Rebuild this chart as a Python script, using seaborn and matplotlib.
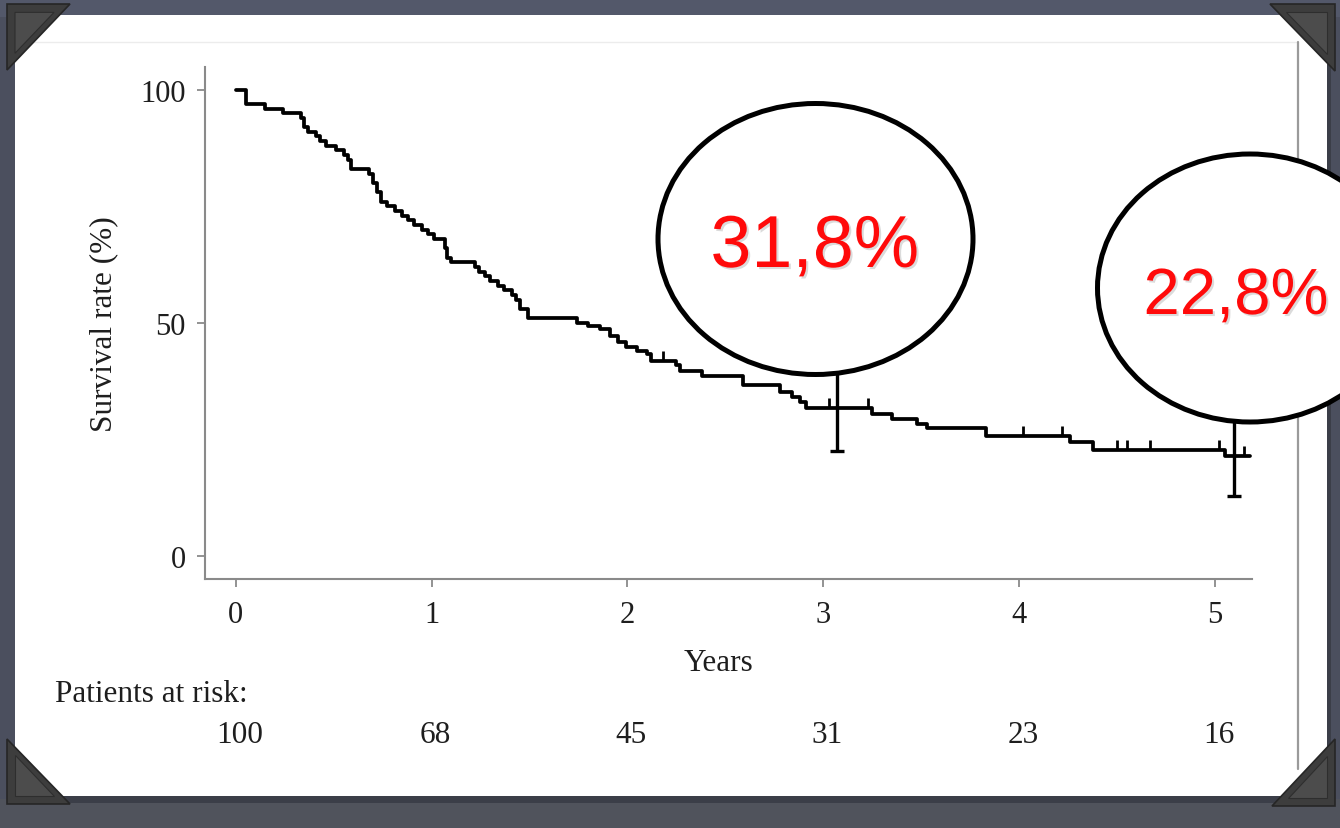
import numpy as np
import pandas as pd
import matplotlib
matplotlib.use("Agg")
import matplotlib.pyplot as plt
import matplotlib.patches as mpatches
import matplotlib.transforms as mtransforms
import matplotlib.patheffects as pe
from matplotlib.lines import Line2D
import seaborn as sns

# Kaplan-Meier estimate: times (years) at which the curve steps, and the level after each step (%)
step_years = [0.00, 0.05, 0.15, 0.24, 0.33, 0.35, 0.37, 0.41, 0.43, 0.46, 0.51, 0.55, 0.57, 0.59,
              0.68, 0.70, 0.72, 0.74, 0.77, 0.81, 0.85, 0.88, 0.91, 0.95, 0.98, 1.01, 1.07, 1.08,
              1.10, 1.22, 1.24, 1.27, 1.30, 1.34, 1.37, 1.41, 1.43, 1.45, 1.49, 1.74, 1.80, 1.86,
              1.91, 1.95, 1.99, 2.05, 2.10, 2.12, 2.25, 2.27, 2.38, 2.59, 2.78, 2.84, 2.88, 2.91,
              3.25, 3.35, 3.48, 3.53, 3.83, 4.26, 4.38, 5.05]
step_survival = [100, 97, 96, 95, 94, 92, 91, 90, 89, 88, 87, 86, 85, 83,
                 82, 80, 78, 76, 75, 74, 73, 72, 71, 70, 69, 68, 66, 64,
                 63, 62, 61, 60, 59, 58, 57, 56, 55, 53, 51, 50, 49.4, 48.7,
                 47.2, 46, 44.8, 44, 43.3, 41.8, 41, 39.7, 38.6, 36.7, 35.2, 34.1, 33, 31.8,
                 30.5, 29.4, 28.4, 27.5, 25.7, 24.5, 22.8, 21.5]
follow_up_end = 5.18

# censored observations
censor_years = [2.18, 3.03, 3.23, 4.02, 4.22, 4.50, 4.55, 4.67, 5.02, 5.15]

# 3- and 5-year estimates with confidence intervals
ci_years = [3.07, 5.10]
ci_survival = [31.8, 22.8]
ci_lower = [22.5, 12.9]
ci_upper = [41.1, 32.7]

x_ticks = [0, 1, 2, 3, 4, 5]
y_ticks = [0, 50, 100]
at_risk = [100, 68, 45, 31, 23, 16]

W, H = 1340, 829
sns.set_theme(style="ticks")
plt.rcParams['font.family'] = ['Liberation Serif', 'DejaVu Serif']

fig = plt.figure(figsize=(W / 100, H / 100), dpi=100)
fig.patch.set_facecolor('#4b4f5e')


def fx(px):
    return px / W


def fy(py):
    return 1 - py / H


def rect(x0, y0, x1, y1, **kw):
    p = mpatches.Rectangle((fx(x0), fy(y1)), fx(x1) - fx(x0), fy(y0) - fy(y1),
                           transform=fig.transFigure, **kw)
    fig.add_artist(p)
    return p


def poly(points, **kw):
    p = mpatches.Polygon([(fx(x), fy(y)) for x, y in points], closed=True,
                         transform=fig.transFigure, **kw)
    fig.add_artist(p)
    return p


# slate backdrop bands and the white card
rect(0, 0, W, 18, facecolor='#53586a', edgecolor='none', zorder=-5)
rect(0, 800, W, H, facecolor='#50535c', edgecolor='none', zorder=-5)
rect(19, 20, 1331, 804, facecolor='#3b3e48', edgecolor='none', zorder=-4)
rect(15, 16, 1327, 797, facecolor='white', edgecolor='none', zorder=-3)

# frame of the pasted figure
fig.add_artist(Line2D([fx(15), fx(1298)], [fy(43), fy(43)], transform=fig.transFigure,
                      color='#ececec', lw=1.0, zorder=-2))
fig.add_artist(Line2D([fx(1298), fx(1298)], [fy(43), fy(770)], transform=fig.transFigure,
                      color='#9a9a9a', lw=1.6, zorder=-2))

# photo corners
corner_sets = [
    [(7, 5), (70, 5), (7, 71)],
    [(1270, 5), (1335, 5), (1335, 72)],
    [(7, 740), (7, 805), (70, 805)],
    [(1272, 807), (1335, 807), (1335, 740)],
]
for tri in corner_sets:
    poly(tri, facecolor='#3d3d3d', edgecolor='#262626', lw=1.2, zorder=3)
    cx = sum(p[0] for p in tri) / 3
    cy = sum(p[1] for p in tri) / 3
    inner = [(cx + (x - cx) * 0.62, cy + (y - cy) * 0.62) for x, y in tri]
    poly(inner, facecolor='#4c4c4c', edgecolor='#2e2e2e', lw=0.8, zorder=3)

# survival plot
ax = fig.add_axes([fx(205), fy(580), fx(1252) - fx(205), fy(68) - fy(580)])
ax.set_facecolor('white')

curve = pd.DataFrame({
    'Years': step_years + [follow_up_end],
    'Survival rate (%)': step_survival + [step_survival[-1]],
})
sns.lineplot(data=curve, x='Years', y='Survival rate (%)', drawstyle='steps-post',
             estimator=None, color='black', lw=2.7, ax=ax)


def level_at(t):
    i = np.searchsorted(step_years, t, side='right') - 1
    return step_survival[i]


censor_levels = [level_at(t) for t in censor_years]
ax.vlines(censor_years, censor_levels, [v + 2.2 for v in censor_levels],
          color='black', lw=2.0)

ax.errorbar(ci_years, ci_survival,
            yerr=[np.subtract(ci_survival, ci_lower), np.subtract(ci_upper, ci_survival)],
            fmt='none', ecolor='black', elinewidth=2.4, capsize=5, capthick=2.4)

ax.set_xlim(-0.158, 5.19)
ax.set_ylim(-4.9, 104.9)
ax.set_xticks(x_ticks)
ax.set_yticks(y_ticks)
ax.tick_params(direction='out', length=6, width=1.3, color='#8a8a8a',
               labelsize=22, labelcolor='#1e1e1e')
ax.tick_params(axis='x', pad=9)
ax.tick_params(axis='y', pad=8)
for s in ('top', 'right'):
    ax.spines[s].set_visible(False)
for s in ('left', 'bottom'):
    ax.spines[s].set_color('#8a8a8a')
    ax.spines[s].set_linewidth(1.5)
ax.set_xlabel('Years', fontsize=22.5, color='#1e1e1e', labelpad=12)
ax.xaxis.set_label_coords(0.49, -0.135)
ax.set_ylabel('Survival rate (%)', fontsize=22.5, color='#1e1e1e', labelpad=16)

# numbers at risk
fig.text(fx(55), fy(695), 'Patients at risk:', fontsize=22.5, color='#1e1e1e',
         ha='left', va='center')
risk_tf = mtransforms.blended_transform_factory(ax.transData, fig.transFigure)
for t, n in zip(x_ticks, at_risk):
    ax.text(t + 0.02, fy(736), str(n), transform=risk_tf, fontsize=22.5,
            color='#1e1e1e', ha='center', va='center', clip_on=False)

# callouts with the 3- and 5-year estimates
callouts = [
    ((815.5, 240), 315, 271, 815, 268, 53),
    ((1250, 289), 305, 268, 1236, 315, 47),
]
for (center, w, h, tx, ty, fs), value in zip(callouts, ci_survival):
    ell = mpatches.Ellipse((fx(center[0]), fy(center[1])), fx(w), fy(0) - fy(h),
                           transform=fig.transFigure, facecolor='white',
                           edgecolor='black', lw=3.6, zorder=5)
    fig.add_artist(ell)
    label = f"{value:.1f}%".replace('.', ',')
    fig.text(fx(tx), fy(ty), label, fontsize=fs, color='#ff0a0a',
             family=['Liberation Sans', 'DejaVu Sans'], ha='center', va='baseline',
             zorder=6,
             path_effects=[pe.withSimplePatchShadow(offset=(1.5, -1.5),
                                                    shadow_rgbFace='#888888', alpha=0.3)])

fig.savefig('out.png', dpi=100, facecolor=fig.get_facecolor())
